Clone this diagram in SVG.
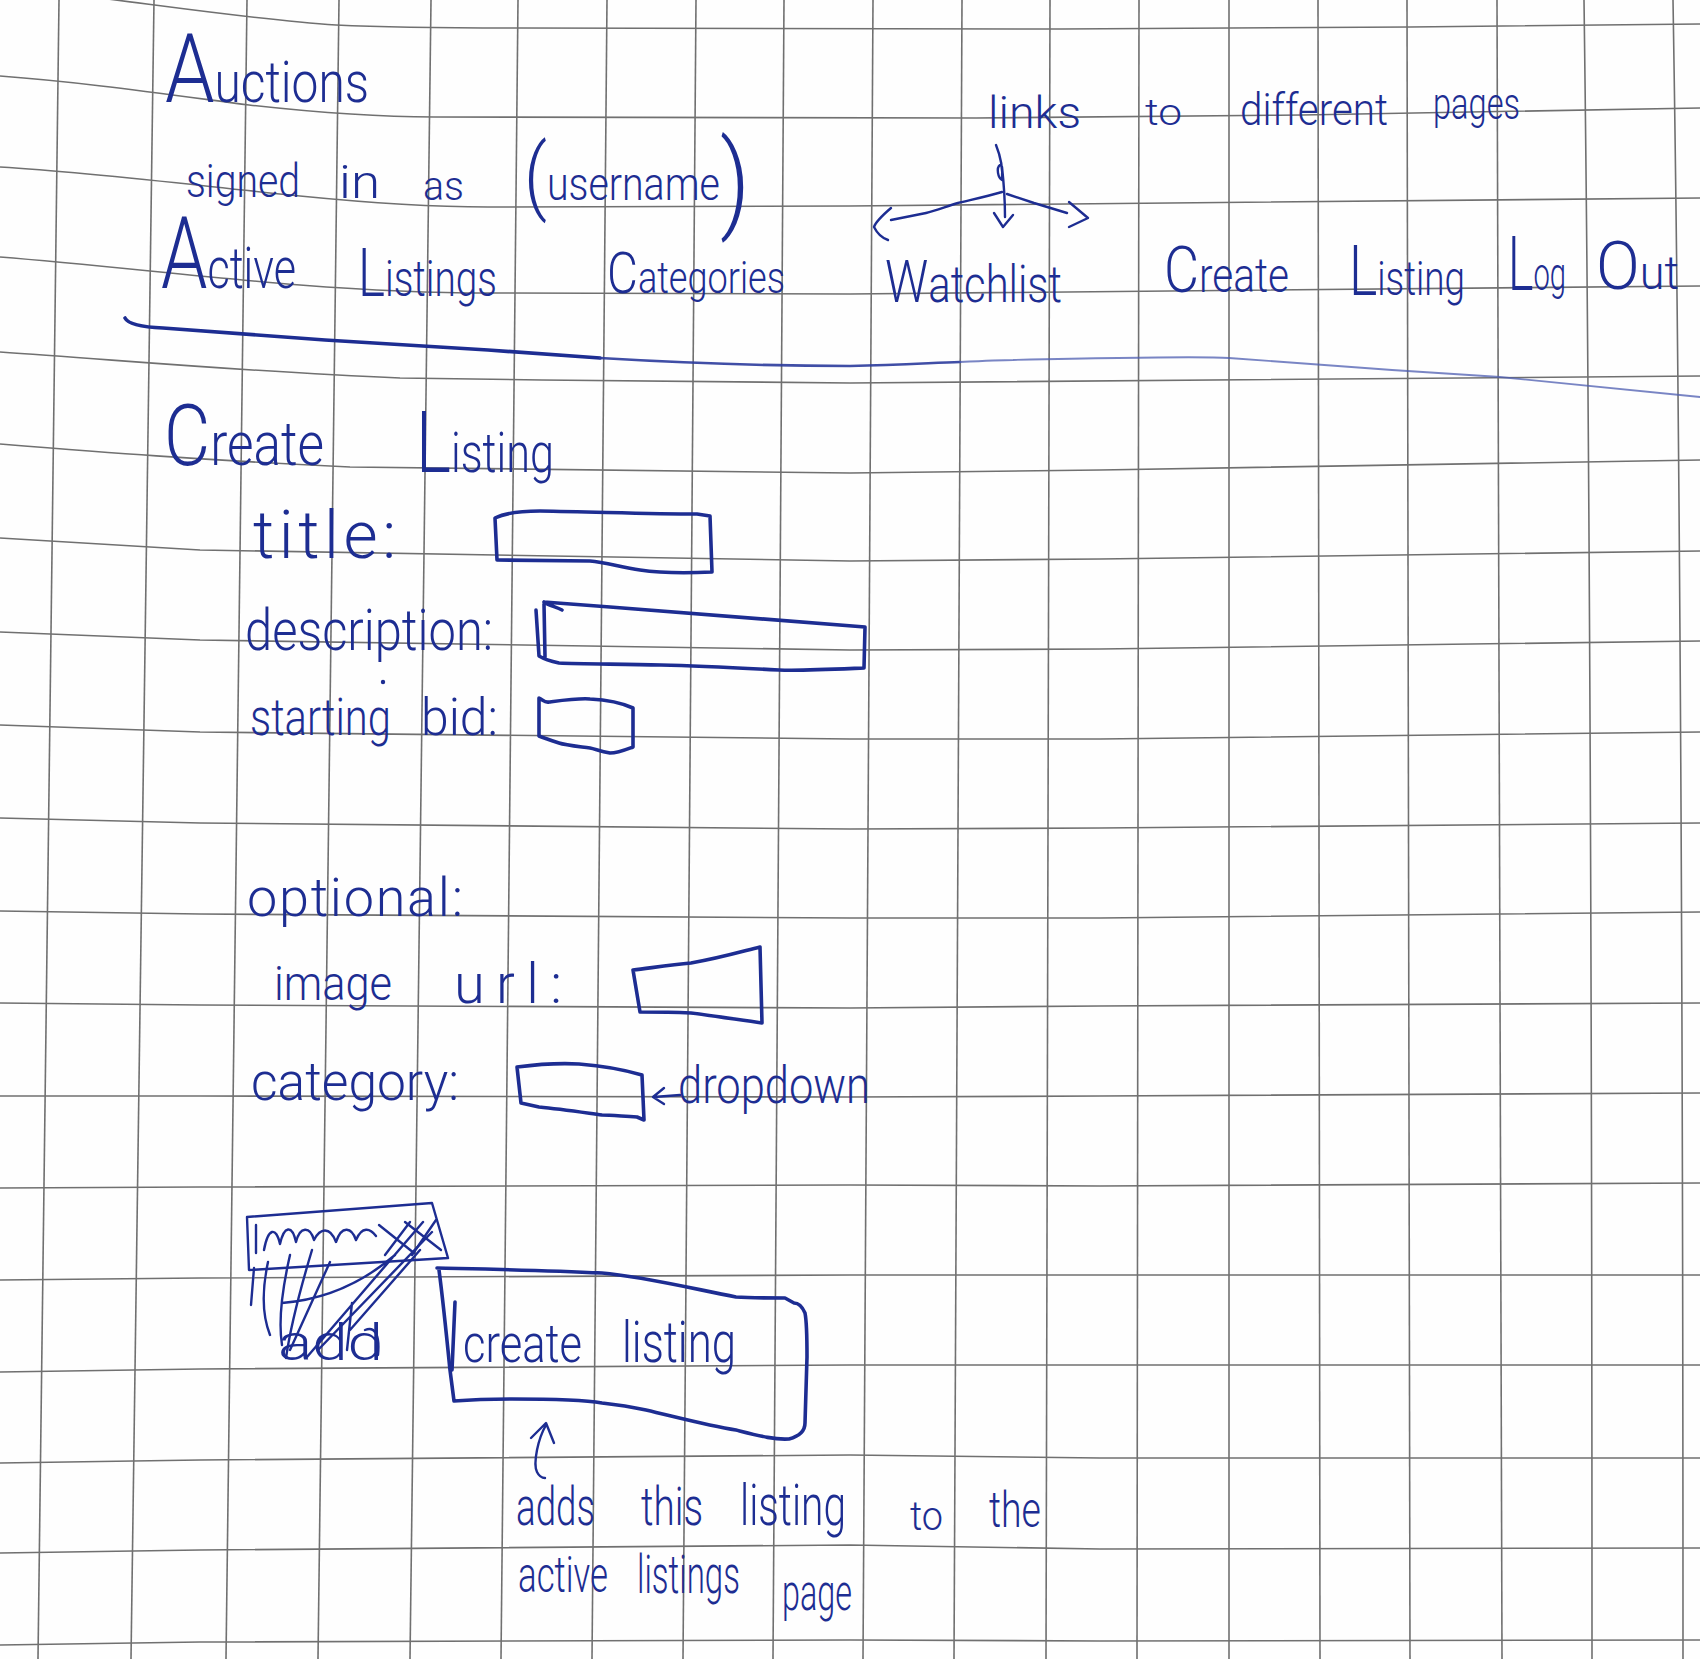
<svg xmlns="http://www.w3.org/2000/svg" width="1700" height="1659" viewBox="0 0 1700 1659">
  <style>
    .grid { fill: none; stroke: #707070; stroke-width: 1.6; }
    .ink { fill: #1d2d92; font-family: Roboto, "Open Sans", "Liberation Sans", sans-serif; font-weight: 300; }
    .pen { fill: none; stroke: #1d2d92; stroke-width: 3.6; stroke-linecap: round; stroke-linejoin: round; }
    .thin { stroke-width: 2.4; }
    .mid { fill: none; stroke: #2b3b9c; stroke-width: 2.6; stroke-linecap: round; opacity: 0.9; }
    .faint { fill: none; stroke: #4c5cb0; stroke-width: 1.8; stroke-linecap: round; opacity: 0.75; }
  </style>

  <rect width="1700" height="1659" fill="#fefefe"/>

  <!-- squared paper -->
  <g id="grid" class="grid">
    <path d="M59,0 L38,1659"/>
    <path d="M154,0 L131,1659"/>
    <path d="M247,0 L226,1659"/>
    <path d="M339,0 L318,1659"/>
    <path d="M431,0 L410,1659"/>
    <path d="M518,0 L501,1659"/>
    <path d="M607,0 L592,1659"/>
    <path d="M696,0 L683,1659"/>
    <path d="M784,0 L773,1659"/>
    <path d="M873,0 L863,1659"/>
    <path d="M962,0 L954,1659"/>
    <path d="M1050,0 L1046,1659"/>
    <path d="M1139,0 L1137,1659"/>
    <path d="M1229,0 L1229,1659"/>
    <path d="M1318,0 L1320,1659"/>
    <path d="M1407,0 L1410,1659"/>
    <path d="M1497,0 L1502,1659"/>
    <path d="M1584,0 Q1592,600 1592,1659"/>
    <path d="M1673,0 Q1683,600 1683,1659"/>

    <path d="M100,-2 C180,8 260,20 336,25 C400,28 480,28 521,28 L1052,29 C1200,29 1350,28 1410,27 L1700,24"/>
    <path d="M0,76 C80,82 150,92 249,105 C320,113 380,117 434,117 L976,118 C1100,117 1200,116 1302,115 L1700,108"/>
    <path d="M0,167 C100,173 200,186 300,196 C380,204 440,207 488,207 L850,206 L1700,198"/>
    <path d="M0,257 C100,265 200,277 300,285 C380,291 440,293 488,293 L850,294 L1700,286"/>
    <path d="M0,352 C120,360 250,372 400,378 L542,380 L850,383 L1700,376"/>
    <path d="M0,444 C100,452 200,460 350,467 L850,473 L1100,470 L1700,460"/>
    <path d="M0,538 L200,550 L850,561 L1100,559 L1700,551"/>
    <path d="M0,632 L200,640 L850,650 L1100,649 L1700,641"/>
    <path d="M0,725 L200,732 L850,739 L1100,739 L1700,732"/>
    <path d="M0,818 L200,823 L850,829 L1100,828 L1700,823"/>
    <path d="M0,911 L200,914 L850,918 L1100,918 L1700,912"/>
    <path d="M0,1003 L200,1005 L850,1008 L1100,1006 L1700,1003"/>
    <path d="M0,1096 L200,1096 L850,1097 L1100,1096 L1700,1093"/>
    <path d="M0,1188 L200,1187 L850,1185 L1100,1186 L1700,1183"/>
    <path d="M0,1280 L200,1278 L850,1275 L1100,1275 L1700,1275"/>
    <path d="M0,1372 L200,1369 L850,1365 L1100,1365 L1700,1365"/>
    <path d="M0,1463 L200,1460 L850,1455 L1100,1458 L1700,1458"/>
    <path d="M0,1553 L200,1550 L850,1545 L1100,1549 L1700,1548"/>
    <path d="M0,1645 L200,1642 L850,1640 L1100,1641 L1700,1640"/>
  </g>

  <!-- page header -->
  <g id="site-title">
    <text class="ink" x="165" y="102" textLength="204" lengthAdjust="spacingAndGlyphs"><tspan font-size="96">A</tspan><tspan font-size="58">uctions</tspan></text>
  </g>
  <g id="signed-in">
    <text class="ink" x="186" y="197" font-size="46" textLength="114" lengthAdjust="spacingAndGlyphs">signed</text>
    <text class="ink" x="339" y="198" font-size="46" textLength="41" lengthAdjust="spacingAndGlyphs">in</text>
    <text class="ink" x="423" y="200" font-size="40" textLength="41" lengthAdjust="spacingAndGlyphs">as</text>
    <text class="ink" x="524" y="200" textLength="226" lengthAdjust="spacingAndGlyphs"><tspan font-size="84" dy="4">(</tspan><tspan font-size="46" dy="-4">username</tspan><tspan font-size="108" dy="18">)</tspan></text>
  </g>

  <g id="nav">
    <g id="nav-active-listings">
      <text class="ink" x="161" y="288" textLength="135" lengthAdjust="spacingAndGlyphs"><tspan font-size="100">A</tspan><tspan font-size="58">ctive</tspan></text>
      <text class="ink" x="358" y="296" textLength="139" lengthAdjust="spacingAndGlyphs"><tspan font-size="66">L</tspan><tspan font-size="50">istings</tspan></text>
    </g>
    <g id="nav-categories">
      <text class="ink" x="607" y="293" textLength="178" lengthAdjust="spacingAndGlyphs"><tspan font-size="58">C</tspan><tspan font-size="44">ategories</tspan></text>
    </g>
    <g id="nav-watchlist">
      <text class="ink" x="885" y="302" textLength="177" lengthAdjust="spacingAndGlyphs"><tspan font-size="60">W</tspan><tspan font-size="52">atchlist</tspan></text>
    </g>
    <g id="nav-create-listing">
      <text class="ink" x="1164" y="292" textLength="125" lengthAdjust="spacingAndGlyphs"><tspan font-size="64">C</tspan><tspan font-size="48">reate</tspan></text>
      <text class="ink" x="1349" y="295" textLength="116" lengthAdjust="spacingAndGlyphs"><tspan font-size="70">L</tspan><tspan font-size="48">isting</tspan></text>
    </g>
    <g id="nav-log-out">
      <text class="ink" x="1508" y="290" textLength="58" lengthAdjust="spacingAndGlyphs"><tspan font-size="76">L</tspan><tspan font-size="46">og</tspan></text>
      <text class="ink" x="1596" y="289" textLength="83" lengthAdjust="spacingAndGlyphs"><tspan font-size="66">O</tspan><tspan font-size="46">ut</tspan></text>
    </g>
  </g>

  <g id="note-links">
    <text class="ink" x="988" y="128" font-size="44" textLength="93" lengthAdjust="spacingAndGlyphs">links</text>
    <text class="ink" x="1145" y="125" font-size="36" textLength="37" lengthAdjust="spacingAndGlyphs">to</text>
    <text class="ink" x="1240" y="125" font-size="44" textLength="148" lengthAdjust="spacingAndGlyphs">different</text>
    <text class="ink" x="1433" y="119" font-size="44" textLength="87" lengthAdjust="spacingAndGlyphs">pages</text>
  </g>

  <!-- header rule -->
  <g id="header-rule">
    <path class="pen" d="M125,318 C128,324 140,327 163,328 L325,340 C400,345 450,348 488,350 L600,358"/>
    <path class="mid" d="M600,358 C700,364 800,366 850,366 C900,365 930,363 960,362"/>
    <path class="faint" d="M960,362 C980,361 1000,360 1013,360 C1100,358 1200,356 1229,358 C1300,363 1350,367 1392,370 C1450,374 1480,376 1500,377 C1580,385 1650,392 1700,397"/>
  </g>

  <!-- create listing form -->
  <g id="form-heading">
    <text class="ink" x="164" y="465" textLength="160" lengthAdjust="spacingAndGlyphs"><tspan font-size="86">C</tspan><tspan font-size="62">reate</tspan></text>
    <text class="ink" x="416" y="472" textLength="138" lengthAdjust="spacingAndGlyphs"><tspan font-size="86">L</tspan><tspan font-size="56">isting</tspan></text>
  </g>

  <g id="field-title">
    <text class="ink" x="253" y="558" font-size="66" textLength="143" lengthAdjust="spacing">title:</text>
    <path class="pen" d="M497,560 L495,518 C505,513 520,511 540,511 C600,512 650,514 697,514 L710,516 L712,572 C690,573 660,573 640,570 C620,567 605,562 590,561 Z"/>
  </g>

  <g id="field-description">
    <text class="ink" x="245" y="650" font-size="58" textLength="248" lengthAdjust="spacingAndGlyphs">description:</text>
    <circle cx="383" cy="682" r="2.2" fill="#1d2d92"/>
    <path class="pen" d="M544,602 C548,605 556,607 562,610 M544,602 L610,607 L865,627 L864,668 C840,669 800,671 779,670 C740,668 700,666 661,665 C620,664 580,664 559,663 C550,661 544,659 539,656 L536,610 M544,604 L545,657"/>
  </g>

  <g id="field-starting-bid">
    <text class="ink" x="250" y="735" font-size="52" textLength="141" lengthAdjust="spacingAndGlyphs">starting</text>
    <text class="ink" x="421" y="735" font-size="52" textLength="77" lengthAdjust="spacingAndGlyphs">bid:</text>
    <path class="pen" d="M539,698 C543,700 545,703 549,702 C565,700 580,698 590,699 C610,700 622,703 633,708 L633,747 C625,750 618,753 610,753 C600,751 595,749 590,748 C575,746 565,745 559,743 C550,740 544,738 539,736 Z"/>
  </g>

  <g id="field-optional">
    <text class="ink" x="247" y="916" font-size="54" textLength="216" lengthAdjust="spacing">optional:</text>
  </g>

  <g id="field-image-url">
    <text class="ink" x="274" y="1000" font-size="48" textLength="118" lengthAdjust="spacingAndGlyphs">image</text>
    <text class="ink" x="454" y="1003" font-size="56" textLength="108" lengthAdjust="spacing">url:</text>
    <path class="pen" d="M633,970 C650,968 670,965 691,963 C720,958 740,952 760,947 L762,1023 C740,1020 715,1016 691,1013 C670,1012 655,1012 640,1012 Z"/>
  </g>

  <g id="field-category">
    <text class="ink" x="251" y="1100" font-size="54" textLength="208" lengthAdjust="spacingAndGlyphs">category:</text>
    <path class="pen" d="M517,1067 C540,1064 560,1063 579,1064 C605,1066 625,1070 642,1075 L644,1120 L637,1117 C620,1116 610,1115 602,1115 C580,1112 560,1109 539,1107 L521,1103 Z"/>
    <text class="ink" x="678" y="1103" font-size="52" textLength="192" lengthAdjust="spacingAndGlyphs">dropdown</text>
  </g>

  <!-- crossed-out attempt -->
  <g id="scribbled-button">
    <path class="pen thin" d="M247,1217 L432,1203 L448,1258 L249,1270 Z"/>
    <path class="pen thin" d="M256,1225 L256,1253"/>
    <path class="pen thin" d="M264,1250 C268,1228 276,1226 280,1244 C284,1226 292,1224 296,1242 C300,1226 310,1226 314,1240 C320,1228 330,1226 336,1242 C342,1224 352,1228 356,1240 C362,1226 370,1228 376,1236"/>
    <path class="pen thin" d="M379,1225 L414,1253 M410,1222 L385,1255 M405,1222 L441,1250 M436,1220 L412,1255"/>
    <text class="ink" x="278" y="1360" font-size="50" textLength="105" lengthAdjust="spacingAndGlyphs">add</text>
    <path class="pen thin" d="M254,1268 L251,1305 M268,1262 C262,1290 262,1315 270,1335 M290,1255 C282,1290 278,1320 282,1345 M312,1250 C300,1290 290,1330 286,1358 M330,1262 L290,1350 M423,1222 L307,1357 M432,1232 L318,1350 M420,1250 L350,1330 M282,1303 C320,1300 360,1285 395,1255 M352,1303 L347,1350 M365,1330 C375,1326 380,1335 378,1355"/>
  </g>

  <g id="submit-button">
    <path class="pen" d="M439,1270 C443,1300 447,1340 450,1370 L454,1401 C480,1399 495,1399 512,1399 C560,1399 585,1400 602,1403 C620,1405 632,1407 646,1410 C680,1418 710,1426 736,1430 C760,1436 775,1440 789,1439 C800,1436 805,1430 805,1423 L807,1357 C807,1335 806,1318 805,1313 C802,1306 798,1303 794,1303 L785,1298 C770,1298 750,1298 736,1297 C690,1288 640,1276 602,1273 C540,1270 480,1269 437,1268"/>
    <path class="pen" d="M455,1302 L452,1370"/>
    <text class="ink" x="463" y="1362" font-size="54" textLength="119" lengthAdjust="spacingAndGlyphs">create</text>
    <text class="ink" x="622" y="1362" font-size="58" textLength="114" lengthAdjust="spacingAndGlyphs">listing</text>
  </g>

  <g id="note-adds">
    <text class="ink" x="516" y="1525" font-size="54" textLength="79" lengthAdjust="spacingAndGlyphs">adds</text>
    <text class="ink" x="641" y="1525" font-size="54" textLength="62" lengthAdjust="spacingAndGlyphs">this</text>
    <text class="ink" x="740" y="1525" font-size="58" textLength="106" lengthAdjust="spacingAndGlyphs">listing</text>
    <text class="ink" x="910" y="1530" font-size="40" textLength="33" lengthAdjust="spacingAndGlyphs">to</text>
    <text class="ink" x="989" y="1527" font-size="50" textLength="52" lengthAdjust="spacingAndGlyphs">the</text>
    <text class="ink" x="518" y="1592" font-size="50" textLength="90" lengthAdjust="spacingAndGlyphs">active</text>
    <text class="ink" x="637" y="1593" font-size="54" textLength="103" lengthAdjust="spacingAndGlyphs">listings</text>
    <text class="ink" x="782" y="1610" font-size="52" textLength="70" lengthAdjust="spacingAndGlyphs">page</text>
  </g>

  <!-- arrows -->
  <g id="connectors" class="pen thin">
    <path d="M996,145 C1000,155 1003,168 1002,180 C998,178 996,168 1000,165 M1002,167 C1004,185 1005,200 1005,217"/>
    <path d="M1002,192 C985,197 970,200 958,203 C945,207 935,211 926,213 L891,220"/>
    <path d="M891,208 C884,214 876,221 874,227 C877,233 882,238 888,240"/>
    <path d="M1007,194 C1016,197 1025,200 1034,203 L1067,213"/>
    <path d="M1069,202 L1088,218 L1069,227"/>
    <path d="M994,213 L1003,227 L1013,215"/>
    <path d="M664,1088 L653,1097 L664,1104 M654,1097 L680,1095"/>
    <path d="M531,1438 L546,1423 L554,1443 M546,1425 C542,1432 539,1440 537,1450 C535,1460 535,1468 537,1472 C539,1476 542,1478 545,1478"/>
  </g>
</svg>
